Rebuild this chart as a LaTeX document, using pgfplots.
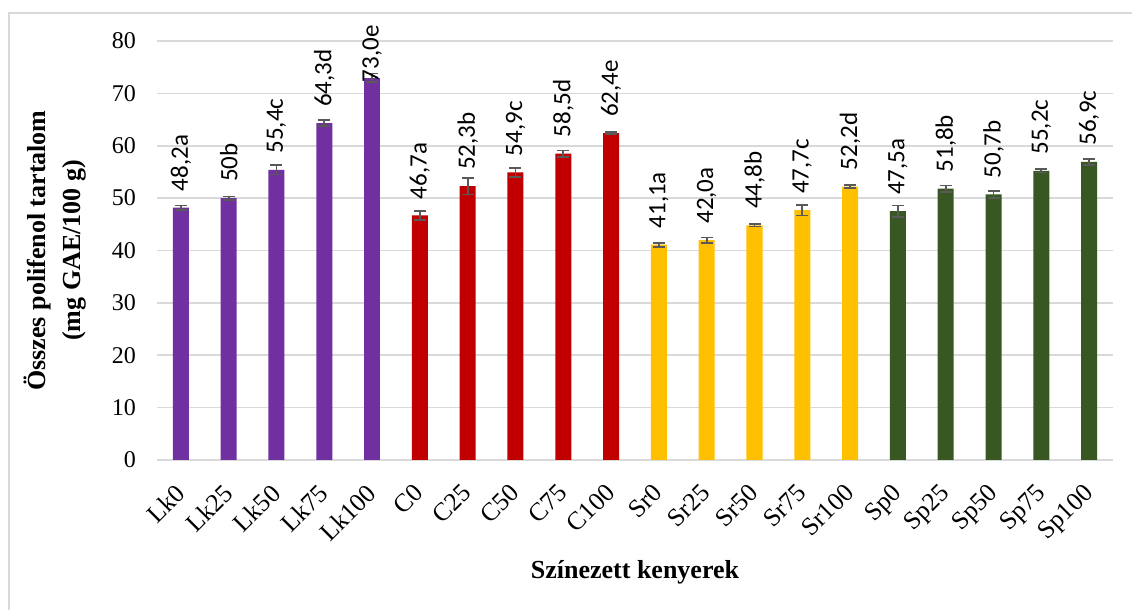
\documentclass[border=0pt]{standalone}
\usepackage{fontspec}
\setmainfont{Liberation Serif}
\newfontfamily\calibri{Carlito}
\usepackage{pgfplots}
\pgfplotsset{compat=1.18}
\usepackage{pgfplotstable}
\definecolor{cpurple}{HTML}{7030A0}
\definecolor{cred}{HTML}{C00000}
\definecolor{cyellow}{HTML}{FFC000}
\definecolor{cgreen}{HTML}{385723}
\definecolor{gridgray}{HTML}{D9D9D9}
\definecolor{errgray}{HTML}{595959}

\pgfplotstableread{
x y e lab
0 48.2 0.4 48,2a
1 50.0 0.3 50b
2 55.4 0.9 55,4c
3 64.3 0.6 64,3d
}\lk
\pgfplotstableread{
x y e lab
4 73.0 0.8 73,0e
}\lkb
\pgfplotstableread{
x y e lab
5 46.7 0.9 46,7a
6 52.3 1.6 52,3b
7 54.9 0.8 54,9c
8 58.5 0.6 58,5d
9 62.4 0.2 62,4e
}\cc
\pgfplotstableread{
x y e lab
10 41.1 0.4 41,1a
11 42.0 0.5 42,0a
12 44.8 0.2 44,8b
13 47.7 1.0 47,7c
14 52.2 0.3 52,2d
}\sr
\pgfplotstableread{
x y e lab
15 47.5 1.1 47,5a
16 51.8 0.6 51,8b
17 50.7 0.7 50,7b
18 55.2 0.3 55,2c
19 56.9 0.5 56,9c
}\sp

\begin{document}
\begin{tikzpicture}
\useasboundingbox (0,0) rectangle (566pt,305pt);
\draw[gridgray, line width=0.8pt] (4.5pt,0) -- (4.5pt,298.5pt) -- (566pt,298.5pt);
\begin{axis}[
  at={(78.5pt,75pt)}, anchor=south west,
  scale only axis, width=478pt, height=209.5pt,
  xmin=-0.5, xmax=19.5, ymin=0, ymax=80,
  ytick={0,10,...,80},
  xtick={0,...,19},
  xticklabels={Lk0,Lk25,Lk50,Lk75,Lk100,C0,C25,C50,C75,C100,Sr0,Sr25,Sr50,Sr75,Sr100,Sp0,Sp25,Sp50,Sp75,Sp100},
  ymajorgrids, grid style={gridgray, line width=0.8pt},
  axis x line*=bottom, axis y line*=left,
  x axis line style={gridgray, line width=0.8pt, -},
  y axis line style={draw=none},
  major tick length=0pt,
  clip=false,
  /pgf/number format/assume math mode=true,
  yticklabel style={font=\fontsize{12}{14}\selectfont, xshift=-7pt},
  xticklabel style={font=\fontsize{12.8}{15}\selectfont, inner sep=0pt, xshift=-3.5pt, yshift=-11pt, rotate=45, anchor=north east},
  ylabel={Összes polifenol tartalom\\(mg GAE/100 g)},
  ylabel style={align=center, font=\bfseries\fontsize{13}{17.5}\selectfont, at={(axis description cs:-0.107,0.5)}, anchor=center},
  xlabel={Színezett kenyerek},
  xlabel style={font=\bfseries\fontsize{13}{15}\selectfont, at={(axis description cs:0.5,-0.267)}, anchor=center},
  point meta=explicit symbolic,
  every axis plot/.append style={ybar, bar width=8pt, bar shift=0pt, draw=none},
  nodes near coords,
  nodes near coords style={font=\calibri\fontsize{12.5}{14}\selectfont, rotate=90, anchor=west, inner xsep=8pt, inner ysep=0pt, text=black},
  error bars/error bar style={errgray, line width=0.9pt},
  error bars/error mark options={errgray, rotate=90, mark size=3pt, line width=0.9pt},
]
\addplot[fill=cpurple, error bars/.cd, y dir=both, y explicit] table[x=x, y=y, y error=e, meta=lab]{\lk};
\addplot[fill=cpurple, nodes near coords style={inner xsep=-2.5pt}, error bars/.cd, y dir=both, y explicit] table[x=x, y=y, y error=e, meta=lab]{\lkb};
\addplot[fill=cred, error bars/.cd, y dir=both, y explicit] table[x=x, y=y, y error=e, meta=lab]{\cc};
\addplot[fill=cyellow, error bars/.cd, y dir=both, y explicit] table[x=x, y=y, y error=e, meta=lab]{\sr};
\addplot[fill=cgreen, error bars/.cd, y dir=both, y explicit] table[x=x, y=y, y error=e, meta=lab]{\sp};
\end{axis}
\end{tikzpicture}
\end{document}
